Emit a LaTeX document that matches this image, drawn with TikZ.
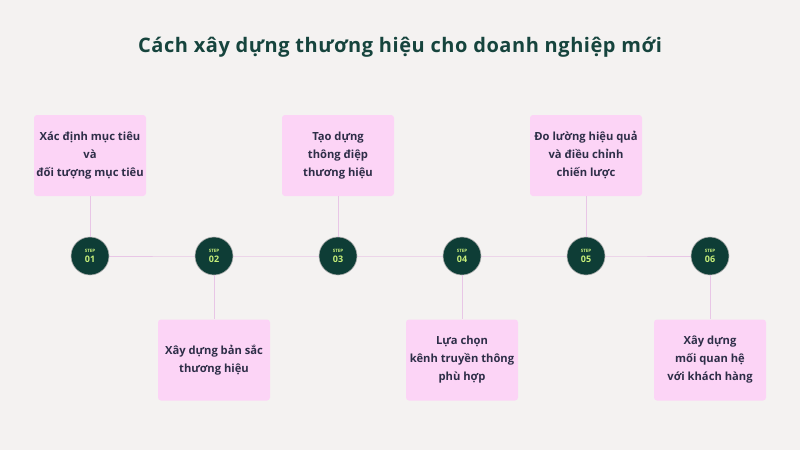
\documentclass[tikz,border=0pt]{standalone}
\usepackage{fontspec}
\setmainfont{Open Sans}
\definecolor{bg}{HTML}{F4F2F1}
\definecolor{boxpink}{HTML}{FCD4F6}
\definecolor{linepink}{HTML}{E8C6E6}
\definecolor{stepgreen}{HTML}{0E3D36}
\definecolor{titlecol}{HTML}{16443D}
\definecolor{txt}{HTML}{2E2E48}
\definecolor{lime}{HTML}{C8F07A}
\begin{document}
\begin{tikzpicture}[x=1pt,y=-1pt,
  infobox/.style={fill=boxpink, rounded corners=3pt, minimum width=112pt, minimum height=81pt, inner sep=0pt, align=center, text=txt, font=\fontsize{11.2}{18}\selectfont\bfseries},
  stepdot/.style={circle, fill=stepgreen, draw=gray!60, line width=0.6pt, minimum size=38pt, inner sep=0pt, align=center, text=lime},
  conn/.style={draw=linepink, line width=1pt}]
\fill[bg] (0,0) rectangle (800,450);
\useasboundingbox (0,0) rectangle (800,450);
\node[text=titlecol, font=\fontsize{20}{22}\selectfont\bfseries\addfontfeature{LetterSpace=2.8}] (title) at (400,47) {Cách xây dựng thương hiệu cho doanh nghiệp mới};
% step circles
\foreach \i/\x in {1/90,2/214,3/338,4/462,5/586,6/710}{
  \coordinate (c\i) at (\x,256);
}
\draw[conn] (c1) -- (c2) -- (c3) -- (c4) -- (c5) -- (c6);
% boxes
\node[infobox] (b1) at (90,155.5) {Xác định mục tiêu\\và\\đối tượng mục tiêu};
\node[infobox] (b3) at (338,155.5) {Tạo dựng\\thông điệp\\thương hiệu};
\node[infobox] (b5) at (586,155.5) {Đo lường hiệu quả\\và điều chỉnh\\chiến lược};
\node[infobox] (b2) at (214,360) {Xây dựng bản sắc\\thương hiệu};
\node[infobox] (b4) at (462,360) {Lựa chọn\\kênh truyền thông\\phù hợp};
\node[infobox] (b6) at (710,360) {Xây dựng\\mối quan hệ\\với khách hàng};
\foreach \i/\n in {1/01,2/02,3/03,4/04,5/05,6/06}{
  \node[stepdot] (s\i) at (c\i) {\fontsize{4.5}{5}\selectfont\bfseries STEP\\[-2pt]\fontsize{9}{9}\selectfont\bfseries \n};
}
\draw[conn] (b1) -- (s1);
\draw[conn] (b3) -- (s3);
\draw[conn] (b5) -- (s5);
\draw[conn] (s2) -- (b2);
\draw[conn] (s4) -- (b4);
\draw[conn] (s6) -- (b6);
\end{tikzpicture}
\end{document}
